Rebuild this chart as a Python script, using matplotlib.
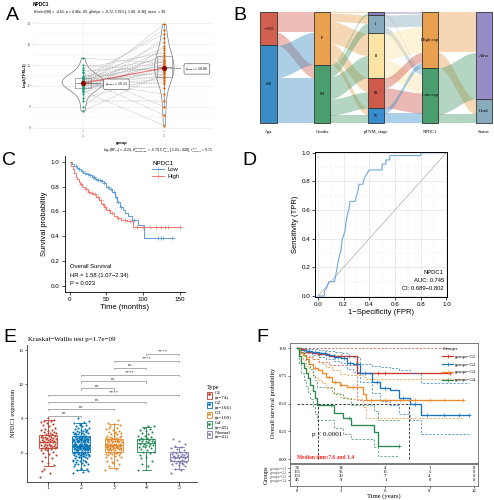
import numpy as np
import matplotlib
matplotlib.use("Agg")
import matplotlib.pyplot as plt
from matplotlib.patches import Rectangle, Patch
from matplotlib.lines import Line2D
from matplotlib.ticker import MultipleLocator, FormatStrFormatter

SANS = ["Liberation Sans", "DejaVu Sans"]
SERIF = ["Liberation Serif", "DejaVu Serif"]
plt.rcParams["font.family"] = SANS
plt.rcParams["mathtext.fontset"] = "dejavusans"

## ---------- A: NPDC1 paired Normal/Tumor, Log2(TPM+1) ----------
a_normal = [8.8, 9.0, 9.3, 9.4, 9.6, 9.7, 9.75, 9.8, 9.85, 9.9,
            9.9, 9.95, 10.0, 10.0, 10.05, 10.05, 10.1, 10.1, 10.15, 10.15,
            10.2, 10.2, 10.25, 10.25, 10.3, 10.3, 10.35, 10.4, 10.4, 10.45,
            10.4, 10.45, 10.5, 10.6, 10.65, 10.75, 10.85, 11.0, 11.33]
a_tumor = [10.6, 11.9, 9.3, 10.45, 12.3, 10.9, 8.1, 11.2, 10.75, 11.5,
           10.2, 12.95, 10.5, 11.05, 9.9, 11.7, 10.85, 10.3, 12.1, 11.25,
           9.6, 10.65, 11.4, 12.7, 10.1, 11.0, 8.6, 11.8, 10.95, 11.15,
           10.4, 12.5, 10.55, 9.0, 11.3, 10.8, 11.6, 10.7, 11.1]
a_groups = ["Normal", "Tumor"]

## ---------- B: alluvial (counts between neighbouring axes) ----------
b_axes = ["Age", "Gender", "pTNM_stage", "NPDC1", "Status"]
b_strata = [["<=60", ">60"], ["F", "M"], ["", "I", "II", "III", "IV"],
            ["High exp", "Low exp"], ["Alive", "Dead"]]
b_age_gender = [[20, 13], [32, 45]]
b_gender_stage = [[1, 8, 22, 14, 7], [2, 10, 22, 16, 8]]
b_stage_npdc1 = [[2, 1], [12, 6], [26, 18], [10, 20], [5, 10]]
b_npdc1_status = [[40, 15], [46, 9]]
b_colors = [["#D2604F", "#3A8DC4"], ["#E9A04F", "#4A9D6C"],
            ["#8E81C0", "#87AABC", "#FCE4A4", "#CE5A4B", "#3A8DCD"],
            ["#E9A04F", "#4A9D6C"], ["#978DC6", "#87AABC"]]

## ---------- C: KM by NPDC1 (months) ----------
c_low_t = [0, 3, 6, 9, 12, 15, 18, 22, 26, 30, 34, 38, 42, 46, 50, 54, 58, 62, 65, 68, 72, 76, 80, 85, 93, 101]
c_low_s = [1.0, 0.98, 0.965, 0.95, 0.94, 0.925, 0.91, 0.9, 0.89, 0.875, 0.865, 0.855, 0.845, 0.83,
           0.8, 0.78, 0.76, 0.72, 0.68, 0.64, 0.61, 0.59, 0.56, 0.53, 0.49, 0.385]
c_low_end = 143
c_low_cens = [8, 12, 17, 20, 24, 27, 31, 33, 36, 39, 41, 44, 47, 52, 56, 60, 63, 66, 70, 88, 120, 125, 128, 140]
c_high_t = [0, 2, 4, 6, 8, 10, 12, 14, 17, 20, 24, 28, 32, 36, 40, 43, 46, 50, 55, 60, 64, 70, 78, 86]
c_high_s = [1.0, 0.97, 0.94, 0.91, 0.88, 0.86, 0.84, 0.82, 0.8, 0.78, 0.76, 0.75, 0.74, 0.72,
            0.69, 0.66, 0.64, 0.61, 0.59, 0.56, 0.55, 0.53, 0.52, 0.475]
c_high_end = 150
c_high_cens = [15, 22, 26, 30, 34, 38, 42, 45, 48, 53, 58, 66, 75, 82, 92, 100, 110, 118, 125, 130, 134, 150]

## ---------- D: ROC ----------
d_fpr = [0.0, 0.05, 0.05, 0.07, 0.085, 0.13, 0.14, 0.15, 0.16, 0.17, 0.18, 0.19, 0.20, 0.21, 0.22, 0.23,
         0.24, 0.25, 0.29, 0.30, 0.31, 0.32, 0.35, 0.36, 0.38, 0.40, 0.50, 0.50, 0.53, 0.53, 0.56, 0.56,
         0.60, 0.80, 0.80, 1.0]
d_tpr = [0.0, 0.0, 0.03, 0.06, 0.10, 0.10, 0.15, 0.20, 0.25, 0.29, 0.32, 0.40, 0.42, 0.45, 0.52, 0.57,
         0.60, 0.66, 0.66, 0.70, 0.72, 0.78, 0.78, 0.82, 0.85, 0.88, 0.88, 0.92, 0.92, 0.95, 0.95, 0.98,
         0.98, 0.98, 1.0, 1.0]

## ---------- E: NPDC1 expression by grade ----------
e_groups = ["G1", "G2", "G3", "G4", "Normal"]
e_g1 = [3.9, 4.2, 4.6, 4.9, 5.1, 5.3, 5.5, 5.6, 5.8, 5.9, 6.0, 6.1, 6.2, 6.2, 6.3, 6.3, 6.4, 6.4, 6.4, 6.5,
        6.5, 6.5, 6.6, 6.6, 6.6, 6.7, 6.7, 6.7, 6.8, 6.8, 6.8, 6.9, 6.9, 6.9, 6.9, 7.0, 7.0, 7.0, 7.1, 7.1,
        7.1, 7.2, 7.2, 7.2, 7.3, 7.3, 7.3, 7.4, 7.4, 7.4, 7.5, 7.5, 7.5, 7.6, 7.6, 7.7, 7.7, 7.8, 7.8, 7.9,
        8.0, 8.0, 8.1, 8.2, 8.3, 8.4, 8.5, 8.6, 8.7, 8.8, 8.8, 8.9, 9.0, 4.4]
e_g2 = [4.2, 4.3, 4.5, 4.6, 4.7, 4.8, 4.9, 5.0, 5.0, 5.1, 5.2, 5.2, 5.3, 5.3, 5.4, 5.4, 5.5, 5.5, 5.5, 5.6,
        5.6, 5.7, 5.7, 5.7, 5.8, 5.8, 5.8, 5.9, 5.9, 5.9, 5.9, 6.0, 6.0, 6.0, 6.0, 6.1, 6.1, 6.1, 6.1, 6.1,
        6.2, 6.2, 6.2, 6.2, 6.2, 6.3, 6.3, 6.3, 6.3, 6.3, 6.3, 6.4, 6.4, 6.4, 6.4, 6.4, 6.4, 6.5, 6.5, 6.5,
        6.5, 6.5, 6.5, 6.5, 6.6, 6.6, 6.6, 6.6, 6.6, 6.6, 6.6, 6.7, 6.7, 6.7, 6.7, 6.7, 6.7, 6.8, 6.8, 6.8,
        6.8, 6.8, 6.8, 6.9, 6.9, 6.9, 6.9, 6.9, 7.0, 7.0, 7.0, 7.0, 7.0, 7.1, 7.1, 7.1, 7.1, 7.1, 7.2, 7.2,
        7.2, 7.2, 7.2, 7.3, 7.3, 7.3, 7.3, 7.4, 7.4, 7.4, 7.4, 7.5, 7.5, 7.5, 7.5, 7.6, 7.6, 7.6, 7.7, 7.7,
        7.7, 7.8, 7.8, 7.8, 7.9, 7.9, 8.0, 8.0, 8.1, 8.1, 8.2, 8.2, 8.3, 8.3, 8.4, 8.5, 8.6, 8.7, 9.0, 4.4,
        4.6, 5.0, 5.3, 5.6, 5.8, 6.0, 6.2, 6.4, 6.5, 6.7, 6.9, 7.0, 7.2, 7.4, 7.6, 7.9, 8.4, 5.4, 5.7, 6.1,
        6.3, 6.6, 6.8, 7.1, 7.3, 8.8]
e_g3 = [4.5, 4.6, 4.8, 5.0, 5.1, 5.3, 5.4, 5.5, 5.6, 5.7, 5.8, 5.8, 5.9, 5.9, 6.0, 6.0, 6.0, 6.1, 6.1, 6.1,
        6.2, 6.2, 6.2, 6.3, 6.3, 6.3, 6.3, 6.4, 6.4, 6.4, 6.4, 6.5, 6.5, 6.5, 6.5, 6.5, 6.6, 6.6, 6.6, 6.6,
        6.6, 6.7, 6.7, 6.7, 6.7, 6.7, 6.7, 6.8, 6.8, 6.8, 6.8, 6.8, 6.9, 6.9, 6.9, 6.9, 7.0, 7.0, 7.0, 7.0,
        7.1, 7.1, 7.1, 7.1, 7.2, 7.2, 7.2, 7.3, 7.3, 7.3, 7.4, 7.4, 7.5, 7.5, 7.6, 7.6, 7.7, 7.7, 7.8, 7.9,
        8.0, 8.1, 8.2, 8.3, 8.4, 8.5, 8.6, 8.9, 5.2, 5.6, 6.0, 6.2, 6.4, 6.6, 6.8, 7.0, 7.2, 7.5, 7.8, 8.2]
e_g4 = [4.5, 4.8, 5.0, 5.3, 5.6, 5.8, 6.0, 6.1, 6.1, 6.2, 6.3, 6.4, 6.5, 6.5, 6.6, 6.6, 6.7, 6.7, 6.8, 6.8,
        6.8, 6.9, 6.9, 7.0, 7.0, 7.0, 7.1, 7.1, 7.2, 7.2, 7.3, 7.3, 7.4, 7.5, 7.5, 7.6, 7.7, 7.8, 7.9, 8.0,
        8.1, 8.2, 8.3, 8.3, 5.5]
e_normal = [4.2, 4.5, 4.6, 4.8, 4.9, 5.0, 5.1, 5.1, 5.2, 5.2, 5.3, 5.3, 5.3, 5.4, 5.4, 5.5, 5.5, 5.5, 5.6, 5.6,
            5.6, 5.7, 5.7, 5.7, 5.8, 5.8, 5.9, 5.9, 6.0, 6.0, 6.1, 6.1, 6.2, 6.3, 6.4, 6.5, 6.6, 6.8, 7.0, 7.2, 5.0]
e_med = [6.91, 6.59, 6.68, 6.82, 5.60]
e_q1 = [6.38, 6.03, 6.09, 6.09, 5.27]
e_q3 = [7.55, 7.46, 7.20, 7.20, 6.03]
e_lo = [4.86, 4.48, 4.63, 4.48, 4.54]
e_hi = [8.87, 8.58, 8.49, 8.28, 6.53]
e_pairs = [(4, 5, "****"), (3, 5, "****"), (3, 4, "ns"), (2, 5, "****"), (2, 4, "ns"),
           (2, 3, "ns"), (1, 5, "****"), (1, 4, "ns"), (1, 3, "ns"), (1, 2, "ns")]
e_colors = ["#BC3C29", "#0072B5", "#E18727", "#20854E", "#7876B1"]

## ---------- F: KM by grade (years) ----------
f_g1_t = [0, 0.3, 0.6, 1.0, 1.5, 2.2, 4.1]
f_g1_s = [1.0, 0.99, 0.97, 0.96, 0.95, 0.93, 0.78]
f_g1_lo = [1.0, 0.96, 0.92, 0.9, 0.88, 0.85, 0.53]
f_g1_hi = [1.0, 1.0, 1.0, 1.0, 1.0, 1.0, 1.0]
f_g1_end = 10.4
f_g1_cens = [1.5, 2.5, 3.0, 3.5, 5.5, 6.0, 10.4]
f_g2_t = [0, 0.3, 0.6, 1.0, 1.5, 2.0, 2.5, 3.0, 3.4, 3.8, 4.25, 5.1, 5.66, 6.3, 6.9, 7.7, 8.4]
f_g2_s = [1.0, 0.985, 0.975, 0.965, 0.955, 0.94, 0.925, 0.91, 0.87, 0.86, 0.78, 0.70, 0.64, 0.62, 0.55, 0.50, 0.40]
f_g2_lo = [1.0, 0.97, 0.955, 0.94, 0.925, 0.905, 0.885, 0.865, 0.81, 0.79, 0.70, 0.60, 0.52, 0.49, 0.41, 0.35, 0.23]
f_g2_hi = [1.0, 1.0, 0.995, 0.99, 0.985, 0.975, 0.965, 0.955, 0.93, 0.92, 0.86, 0.84, 0.83, 0.82, 0.80, 0.78, 0.69]
f_g2_end = 11.66
f_g2_cens = [0.5, 0.8, 1.2, 1.6, 1.9, 2.2, 2.6, 2.8, 3.2, 3.6, 4.0, 4.6, 5.4, 6.0, 7.2, 8.0, 8.8, 10.0, 11.0, 11.66]
f_g3_t = [0, 0.2, 0.4, 0.6, 0.8, 1.1, 1.4, 1.7, 2.0, 2.4, 2.9, 3.4, 4.5, 4.7]
f_g3_s = [1.0, 0.97, 0.94, 0.9, 0.86, 0.82, 0.80, 0.78, 0.74, 0.70, 0.67, 0.65, 0.59, 0.53]
f_g3_lo = [1.0, 0.93, 0.89, 0.84, 0.79, 0.74, 0.71, 0.69, 0.64, 0.60, 0.56, 0.54, 0.47, 0.37]
f_g3_hi = [1.0, 1.0, 0.99, 0.96, 0.93, 0.90, 0.88, 0.86, 0.83, 0.80, 0.77, 0.76, 0.74, 0.72]
f_g3_end = 11.3
f_g3_cens = [1.2, 2.2, 2.6, 3.0, 3.8, 5.0, 6.0, 7.0, 8.0, 9.0, 10.0, 11.3]
f_g4_t = [0, 0.15, 0.3, 0.45, 0.6, 0.75, 0.9, 1.1, 1.25, 1.37, 2.5, 3.1, 3.7, 5.2, 5.5]
f_g4_s = [1.0, 0.93, 0.87, 0.82, 0.78, 0.73, 0.67, 0.61, 0.55, 0.49, 0.42, 0.37, 0.31, 0.24, 0.12]
f_g4_lo = [1.0, 0.86, 0.78, 0.71, 0.66, 0.60, 0.54, 0.47, 0.41, 0.35, 0.28, 0.23, 0.18, 0.11, 0.03]
f_g4_hi = [1.0, 1.0, 0.97, 0.93, 0.9, 0.86, 0.81, 0.76, 0.71, 0.65, 0.59, 0.55, 0.49, 0.43, 0.35]
f_g4_end = 6.9
f_g4_cens = [2.3, 3.5, 6.9]
f_medians = [7.6, 1.4]
f_risk_times = [0, 3, 6, 9, 12]
f_risk = [[74, 14, 4, 1, 0], [165, 56, 16, 5, 0], [100, 20, 7, 4, 0], [45, 9, 1, 0, 0]]
f_labels = ["groups=G1", "groups=G2", "groups=G3", "groups=G4"]

W, H = 494, 500
fig = plt.figure(figsize=(W / 100, H / 100), dpi=100)


def box(l, t, r, b):
    return [l / W, 1 - b / H, (r - l) / W, (b - t) / H]


def ftext(x, y, s, **kw):
    fig.text(x / W, 1 - y / H, s, **kw)


for lab, x, y in [("A", 12, 15), ("B", 240, 15), ("C", 9, 160), ("D", 249, 160), ("E", 10, 338), ("F", 262, 338)]:
    ftext(x, y, lab, fontsize=14, ha="center", va="center")

# ================= A =================
axA = fig.add_axes(box(34, 20, 213, 131))
axA.set_xlim(0.395, 2.6)
axA.set_ylim(7.84, 13.16)
for sp in axA.spines.values():
    sp.set_visible(False)
axA.yaxis.set_major_locator(MultipleLocator(1))
axA.yaxis.set_minor_locator(MultipleLocator(0.5))
axA.grid(which="major", axis="y", color="#E3E3E3", lw=0.4)
axA.grid(which="minor", axis="y", color="#F0F0F0", lw=0.3)
axA.grid(which="major", axis="x", color="#EDEDED", lw=0.3)
axA.set_axisbelow(True)
axA.tick_params(which="both", length=1, width=0.3, colors="#777", labelsize=2.8, pad=1)
axA.tick_params(which="minor", length=0)
axA.set_xticks([1, 2])
axA.set_xticklabels([f"{g}\n(n = {len(v)})" for g, v in zip(a_groups, [a_normal, a_tumor])],
                    fontsize=2.6, linespacing=1.0)
for v, p, w in [(a_normal, 1, 0.52), (a_tumor, 2, 0.24)]:
    parts = axA.violinplot([v], positions=[p], widths=w, showextrema=False)
    for b in parts["bodies"]:
        b.set_facecolor("none")
        b.set_edgecolor("#6A6A6A")
        b.set_linewidth(0.45)
        b.set_alpha(1)
axA.boxplot([a_normal, a_tumor], positions=[1, 2], widths=0.19, showfliers=False,
            boxprops=dict(color="#777", lw=0.4), whiskerprops=dict(color="#777", lw=0.4),
            capprops=dict(lw=0), medianprops=dict(color="#777", lw=0.5))
for n, t in zip(a_normal, a_tumor):
    axA.plot([1, 2], [n, t], ls=(0, (2, 1.5)), color="#A0A0A0", lw=0.35, zorder=1)
axA.scatter([1] * len(a_normal), a_normal, s=2.5, color="#1B9E77", lw=0, zorder=4)
axA.scatter([2] * len(a_tumor), a_tumor, s=2.5, color="#D95F02", lw=0, zorder=4)
m_n, m_t = np.mean(a_normal), np.mean(a_tumor)
axA.plot([1, 2], [m_n, m_t], color="red", alpha=0.5, lw=0.8, zorder=5)
axA.scatter([1, 2], [m_n, m_t], s=14, color="#8B0000", zorder=6, lw=0)
for xm, ym, xl in [(1, m_n, 1.41), (2, m_t, 2.40)]:
    axA.annotate(r"$\widehat{\mu}_{\mathrm{mean}}$ = " + f"{ym:.2f}", xy=(xm, ym), xytext=(xl, ym - 0.05),
                 fontsize=2.4, ha="center", va="center",
                 bbox=dict(boxstyle="round,pad=0.35", fc="white", ec="#444", lw=0.4),
                 arrowprops=dict(arrowstyle="-", ls="--", lw=0.4, color="#444"), zorder=7)
ftext(33, 5, "NPDC1", fontsize=3.4, weight="bold", va="center")
ftext(33, 12.5, r"$t_{\mathrm{Student}}$(38) = -4.61, $p$ = 4.46e-05, $\widehat{g}_{\mathrm{Hedges}}$ = -0.72, "
      r"CI$_{95\%}$ [-1.08, -0.36], $n_{\mathrm{pairs}}$ = 39", fontsize=2.6, va="center")
ftext(25, 75, "Log2(TPM+1)", fontsize=2.8, weight="bold", rotation=90, ha="center", va="center")
ftext(122, 143, "group", fontsize=3.0, weight="bold", ha="center", va="center")
ftext(213, 150, r"log$_{\mathrm{e}}$(BF$_{01}$) = -4.24, $\widehat{\delta}_{\mathrm{difference}}^{\mathrm{posterior}}$ = -0.70, "
      r"CI$_{95\%}^{\mathrm{ETI}}$ [-1.03, -0.40], $r_{\mathrm{Cauchy}}^{\mathrm{JZS}}$ = 0.71",
      fontsize=2.4, ha="right", va="center")

# ================= B =================
axB = fig.add_axes(box(258, 10, 494, 140))
axB.axis("off")
b_flows = [b_age_gender, b_gender_stage, b_stage_npdc1, b_npdc1_status]
b_counts = [np.array(b_flows[0]).sum(axis=1)] + [np.array(m).sum(axis=0) for m in b_flows]
total = b_counts[0].sum()
axB.set_xlim(-0.195, 4.19)
axB.set_ylim(total * 1.15, -total * 0.018)
hw = 0.15


def smooth(u):
    return u * u * (3 - 2 * u)


for k, mat in enumerate(b_flows):
    mat = np.array(mat)
    cl = np.concatenate([[0], np.cumsum(b_counts[k])])
    cr = np.concatenate([[0], np.cumsum(b_counts[k + 1])])
    x0, x1 = k + hw, k + 1 - hw
    xs = np.linspace(x0, x1, 60)
    u = smooth((xs - x0) / (x1 - x0))
    for a in range(mat.shape[0]):
        for b in range(mat.shape[1]):
            h = mat[a, b]
            if h == 0:
                continue
            yl = cl[a] + mat[a, :b].sum()
            yr = cr[b] + mat[:a, b].sum()
            top = yl + (yr - yl) * u
            axB.fill_between(xs, top, top + h, color=b_colors[k][a], alpha=0.42, lw=0)

for k, cnt in enumerate(b_counts):
    y0 = 0
    for j, n in enumerate(cnt):
        axB.add_patch(Rectangle((k - hw, y0), 2 * hw, n, fc=b_colors[k][j], ec="#333", lw=0.6))
        if b_strata[k][j]:
            axB.text(k, y0 + n / 2, b_strata[k][j], ha="center", va="center", fontsize=3.3, family=SERIF)
        y0 += n
    axB.text(k, total * 1.08, b_axes[k], ha="center", va="center", fontsize=3.3, family=SERIF)

# ================= C =================
axC = fig.add_axes(box(64.5, 155.6, 185, 292.2))
axC.set_xlim(-7.5, 157.5)
axC.set_ylim(-0.05, 1.05)
axC.spines[["top", "right"]].set_visible(False)
for sp in ["left", "bottom"]:
    axC.spines[sp].set_linewidth(0.6)
axC.set_xticks([0, 50, 100, 150])
axC.set_yticks(np.arange(0, 1.01, 0.2))
axC.yaxis.set_major_formatter(FormatStrFormatter("%.1f"))
axC.tick_params(labelsize=4.5, length=2, width=0.5, pad=1.5)
axC.set_xlabel("Time (months)", fontsize=5.5, labelpad=1.5)
axC.set_ylabel("Survival probability", fontsize=5.5, labelpad=2)
c_cols = {"Low": "#5B9BD5", "High": "#F4766E"}
for name, t, s, end, cens in [("Low", c_low_t, c_low_s, c_low_end, c_low_cens),
                               ("High", c_high_t, c_high_s, c_high_end, c_high_cens)]:
    col = c_cols[name]
    axC.step(list(t) + [end], list(s) + [s[-1]], where="post", color=col, lw=0.7)
    idx = np.searchsorted(t, cens, side="right") - 1
    axC.plot(cens, np.array(s)[idx], ls="none", marker="+", ms=3, mew=0.5, color=col)
hC = [Line2D([], [], color=c_cols[n], lw=0.7, marker="+", ms=3, mew=0.5) for n in ["Low", "High"]]
legC = axC.legend(hC, ["Low", "High"], title="NPDC1", loc="upper left", bbox_to_anchor=(148 / W, 1 - 157 / H),
                  bbox_transform=fig.transFigure, frameon=False, fontsize=4.2, title_fontsize=4.5,
                  handlelength=2.0, labelspacing=0.2, borderpad=0.2, handletextpad=0.6)
legC._legend_box.align = "left"
for txt, y in [("Overall Survival", 0.155), ("HR = 1.58 (1.07\u22122.34)", 0.085), ("P = 0.023", 0.02)]:
    axC.text(0, y, txt, fontsize=4.2, va="center")

# ================= D =================
axD = fig.add_axes(box(315.3, 152, 447, 296.7))
axD.set_xlim(-0.02, 1.005)
axD.set_ylim(-0.005, 1.005)
axD.xaxis.set_major_locator(MultipleLocator(0.2))
axD.yaxis.set_major_locator(MultipleLocator(0.2))
axD.xaxis.set_minor_locator(MultipleLocator(0.1))
axD.yaxis.set_minor_locator(MultipleLocator(0.1))
axD.xaxis.set_major_formatter(FormatStrFormatter("%.1f"))
axD.yaxis.set_major_formatter(FormatStrFormatter("%.1f"))
axD.grid(which="major", color="#E6E6E6", lw=0.55)
axD.grid(which="minor", color="#F0F0F0", lw=0.35)
axD.set_axisbelow(True)
for sp in axD.spines.values():
    sp.set_linewidth(0.7)
axD.tick_params(which="major", labelsize=4.5, length=2, width=0.5, pad=1.5)
axD.tick_params(which="minor", length=0)
axD.plot([0, 1], [0, 1], color="#ABABAB", lw=0.5)
axD.plot(d_fpr, d_tpr, color="#6FA8DC", lw=0.8)
axD.set_xlabel("1\u2212Specificity (FPR)", fontsize=5.5, labelpad=1.5)
axD.set_ylabel("Sensitivity (TPR)", fontsize=5.5, labelpad=2)
for txt, y in [("NPDC1", 0.166), ("AUC: 0.745", 0.107), ("CI: 0.689\u22120.802", 0.049)]:
    axD.text(0.98, y, txt, fontsize=4.2, ha="right", va="center")

# ================= E =================
axE = fig.add_axes(box(26.7, 345, 197, 481.7))
e_vals = [e_g1, e_g2, e_g3, e_g4, e_normal]
axE.set_xlim(0.34, 5.55)
axE.set_ylim(3.46, 15.44)
axE.spines[["top", "right"]].set_visible(False)
for sp in ["left", "bottom"]:
    axE.spines[sp].set_linewidth(0.6)
    axE.spines[sp].set_color("#333")
axE.set_yticks([6, 9, 12, 15])
axE.set_xticks(range(1, 6))
axE.set_xticklabels([f"{g}\n(n={len(v)})" for g, v in zip(e_groups, e_vals)], family=SERIF, fontsize=4,
                    linespacing=1.0)
axE.tick_params(axis="y", labelsize=3.5, length=1.5, width=0.4, pad=1)
axE.tick_params(axis="x", length=1.5, width=0.4, pad=1)
for lbl in axE.get_yticklabels():
    lbl.set_family(SERIF)
axE.set_ylabel("NPDC1 expression", family=SERIF, fontsize=4.5, labelpad=1.5)
stats = [dict(med=m, q1=a, q3=b, whislo=lo, whishi=hi, fliers=[])
         for m, a, b, lo, hi in zip(e_med, e_q1, e_q3, e_lo, e_hi)]
bp = axE.bxp(stats, positions=range(1, 6), widths=0.55, showfliers=False, patch_artist=True,
             capwidths=0.28, zorder=2)
for i, c in enumerate(e_colors):
    bp["boxes"][i].set(facecolor="white", edgecolor=c, lw=0.6)
    bp["medians"][i].set(color=c, lw=0.6)
    for w in bp["whiskers"][2 * i:2 * i + 2] + bp["caps"][2 * i:2 * i + 2]:
        w.set(color=c, lw=0.6)
for i, (v, c) in enumerate(zip(e_vals, e_colors)):
    offs = ((np.arange(len(v)) * 0.618034) % 1 - 0.5) * 0.5
    axE.scatter(i + 1 + offs, v, s=2.2, color=c, lw=0, zorder=3)
for k, (g1, g2, lab) in enumerate(e_pairs):
    y = 14.65 - 0.6 * k
    axE.plot([g1, g1, g2, g2], [y - 0.12, y, y, y - 0.12], color="#8A8A8A", lw=0.5)
    axE.text((g1 + g2) / 2, y + 0.02, lab, ha="center", va="bottom", fontsize=3.6, family=SERIF,
             color="#333")
ftext(28, 340, "Kruskal\u2212Wallis test p=1.7e\u221209", fontsize=5, family=SERIF, va="center")
hE = [(Patch(fc="white", ec=c, lw=0.6), Line2D([], [], ls="none", marker=".", ms=2, color=c)) for c in e_colors]
legE = axE.legend(hE, [f"{g}\n(n={len(v)})" for g, v in zip(e_groups, e_vals)], title="Type",
                  loc="upper left", bbox_to_anchor=(203 / W, 1 - 381 / H), bbox_transform=fig.transFigure,
                  frameon=False, prop=dict(family=SERIF, size=3.7), title_fontproperties=dict(family=SERIF, size=4.6),
                  handlelength=1.1, handleheight=1.6, labelspacing=0.35, handletextpad=0.4, borderpad=0.2)
legE._legend_box.align = "left"
for t in legE.get_texts():
    t.set_linespacing(1.0)

# ================= F =================
axF = fig.add_axes(box(290, 343, 478, 463))
axF.set_xlim(-0.475, 12.29)
axF.set_ylim(-0.036, 1.048)
for sp in axF.spines.values():
    sp.set_linewidth(0.6)
    sp.set_color("#666")
axF.set_xticks(f_risk_times)
axF.set_xticklabels([])
axF.set_yticks([0, 0.25, 0.5, 0.75, 1.0])
axF.yaxis.set_major_formatter(FormatStrFormatter("%.2f"))
axF.tick_params(labelsize=3.3, length=1.5, width=0.4, pad=1)
for lbl in axF.get_yticklabels():
    lbl.set_family(SERIF)
axF.set_ylabel("Overall survival probability", family=SERIF, fontsize=4.5, labelpad=2)
f_cols = ["#D0352A", "#1A73BE", "#EE8A2A", "#27894F"]
f_data = [(f_g1_t, f_g1_s, f_g1_lo, f_g1_hi, f_g1_end, f_g1_cens),
          (f_g2_t, f_g2_s, f_g2_lo, f_g2_hi, f_g2_end, f_g2_cens),
          (f_g3_t, f_g3_s, f_g3_lo, f_g3_hi, f_g3_end, f_g3_cens),
          (f_g4_t, f_g4_s, f_g4_lo, f_g4_hi, f_g4_end, f_g4_cens)]
for (t, s, lo, hi, end, cens), c in zip(f_data, f_cols):
    tt = list(t) + [end]
    for band in (lo, hi):
        axF.step(tt, list(band) + [band[-1]], where="post", color=c, lw=0.55, ls=(0, (3, 2)), alpha=0.85)
    axF.step(tt, list(s) + [s[-1]], where="post", color=c, lw=0.95)
    idx = np.searchsorted(t, cens, side="right") - 1
    axF.plot(cens, np.array(s)[idx], ls="none", marker="+", ms=2.6, mew=0.5, color=c)
axF.plot([0, max(f_medians)], [0.5, 0.5], color="#222", lw=0.6, ls=(0, (3, 2)))
for m in f_medians:
    axF.plot([m, m], [0, 0.5], color="#222", lw=0.6, ls=(0, (3, 2)))
axF.text(1.0, 0.22, "p < 0.0001", family=SERIF, fontsize=5, va="center")
axF.text(0.0, 0.015, "Median time:7.6 and 1.4", family=SERIF, fontsize=4, color="#FF2020", weight="bold",
         va="center")
hF = [Line2D([], [], color=c, lw=0.9, marker="+", ms=2.6, mew=0.5) for c in f_cols]
legF = axF.legend(hF, f_labels, title="Groups", loc="upper left", bbox_to_anchor=(439 / W, 1 - 343.5 / H),
                  bbox_transform=fig.transFigure, frameon=False, prop=dict(family=SERIF, size=3.4),
                  title_fontproperties=dict(family=SERIF, size=3.8, style="italic"),
                  handlelength=2.2, labelspacing=0.75, handletextpad=0.5, borderpad=0.2)
legF._legend_box.align = "left"

axR = fig.add_axes(box(290, 464, 478, 486))
axR.set_xlim(-0.475, 12.29)
axR.set_ylim(5.4, -0.05)
for sp in axR.spines.values():
    sp.set_linewidth(0.6)
    sp.set_color("#666")
axR.set_xticks(f_risk_times)
axR.set_yticks(range(1, 5))
axR.set_yticklabels(f_labels, family=SERIF, fontsize=2.8, color="#555")
axR.tick_params(axis="y", length=1.2, width=0.4, pad=1)
axR.tick_params(axis="x", labelsize=3.4, length=1.2, width=0.4, pad=0.6)
for lbl in axR.get_xticklabels():
    lbl.set_family(SERIF)
axR.grid(axis="x", color="#E8E8E8", lw=0.4)
for r, row in enumerate(f_risk):
    for t, n in zip(f_risk_times, row):
        axR.text(t, r + 1, str(n), ha="center", va="center", family=SERIF, fontsize=3.3)
axR.set_ylabel("Groups", family=SERIF, fontsize=4.5, labelpad=1)
axR.set_xlabel("Time (years)", family=SERIF, fontsize=4.8, labelpad=0.3)

fig.savefig("out.png", dpi=100)
